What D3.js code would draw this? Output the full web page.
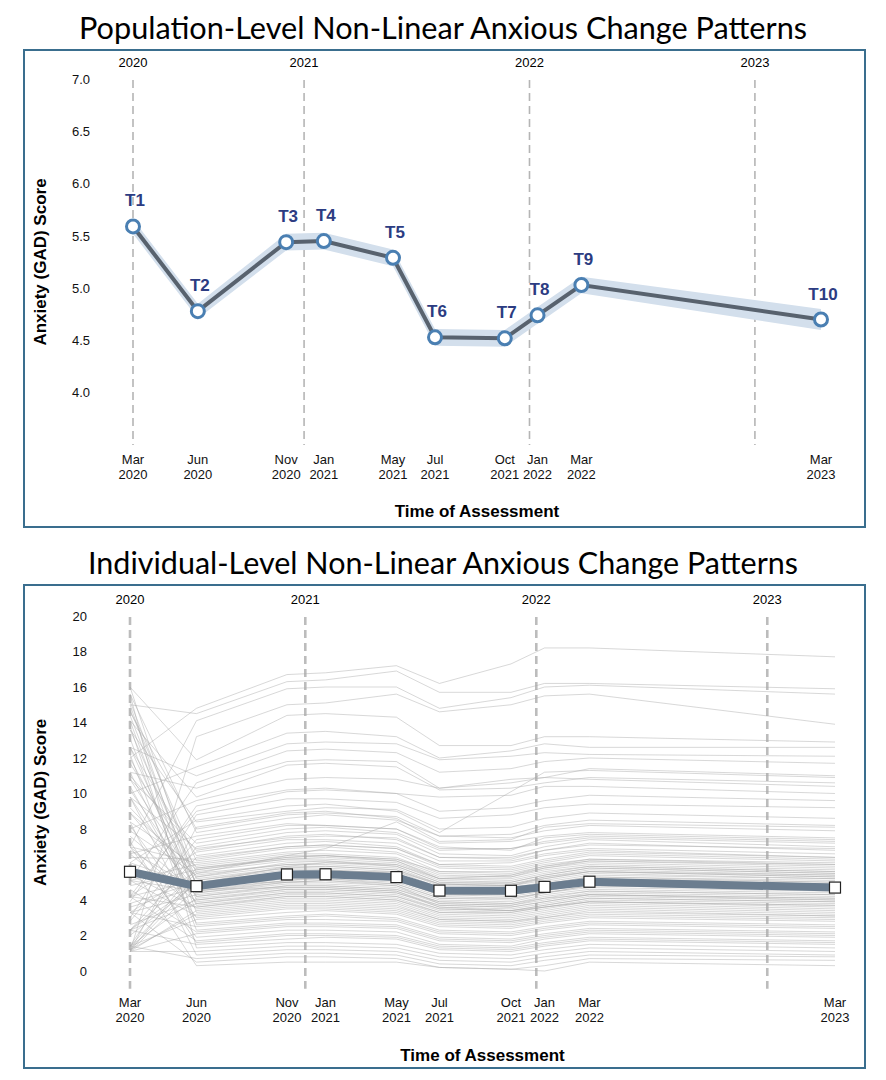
<!DOCTYPE html>
<html>
<head>
<meta charset="utf-8">
<script src="https://cdn.jsdelivr.net/npm/d3@7"></script>
<style>
  body { margin: 0; background: #fff; }
  svg { display: block; }
  svg text { font-family: "Liberation Sans", Arial, Helvetica, sans-serif; }
  svg text.title { font-family: Lato, "Open Sans", sans-serif; }
</style>
</head>
<body>
<svg id="chart" width="886" height="1080"></svg>
<script>
// assessment waves
const waves = ['T1', 'T2', 'T3', 'T4', 'T5', 'T6', 'T7', 'T8', 'T9', 'T10'];
const waveDates = ['2020-03-30', '2020-07-13', '2020-12-03', '2021-02-02', '2021-05-25',
  '2021-08-01', '2021-11-22', '2022-01-14', '2022-03-26', '2023-04-18'];
const monthLabels = ['Mar', 'Jun', 'Nov', 'Jan', 'May', 'Jul', 'Oct', 'Jan', 'Mar', 'Mar'];
const yearLabels = ['2020', '2020', '2020', '2021', '2021', '2021', '2021', '2022', '2022', '2023'];

// year boundaries (first one sits on the first wave)
const yearMarks = ['2020', '2021', '2022', '2023'];
const yearMarkDates = ['2020-03-30', '2021-01-01', '2022-01-01', '2023-01-01'];

// population mean and its band
const meanScores = [5.59, 4.78, 5.44, 5.45, 5.29, 4.53, 4.52, 4.74, 5.03, 4.70];
const ciLower = [5.52, 4.71, 5.36, 5.37, 5.21, 4.45, 4.44, 4.66, 4.95, 4.60];
const ciUpper = [5.66, 4.85, 5.52, 5.53, 5.37, 4.61, 4.60, 4.82, 5.11, 4.80];

const populationTicks = [4.0, 4.5, 5.0, 5.5, 6.0, 6.5, 7.0];
const individualTicks = [0, 2, 4, 6, 8, 10, 12, 14, 16, 18, 20];

// individual trajectories (one row per participant, T1..T10)
const individualScores = [
  [12.0, 14.8, 16.7, 16.8, 17.2, 16.2, 17.3, 18.2, 18.2, 17.7],
  [15.0, 14.5, 16.3, 16.4, 16.9, 15.7, 15.7, 16.2, 16.2, 15.9],
  [7.0, 14.1, 15.9, 16.0, 16.0, 14.8, 15.4, 16.0, 16.1, 15.6],
  [1.1, 13.2, 15.0, 15.1, 15.6, 14.6, 15.0, 15.5, 15.6, 13.9],
  [16.0, 11.9, 14.4, 14.5, 14.3, 12.7, 12.7, 13.2, 13.2, 12.9],
  [10.0, 11.5, 13.4, 13.5, 13.2, 12.0, 12.4, 12.8, 12.6, 12.6],
  [12.6, 11.0, 12.8, 12.9, 12.8, 11.9, 12.1, 12.3, 12.2, 12.1],
  [5.1, 10.6, 12.4, 12.5, 12.3, 11.2, 11.4, 11.8, 12.0, 11.7],
  [11.2, 10.3, 11.8, 11.9, 11.8, 10.3, 10.8, 10.9, 11.4, 11.0],
  [14.1, 9.8, 11.6, 11.7, 11.5, 10.2, 10.3, 10.6, 10.9, 10.6],
  [8.0, 9.6, 10.8, 10.9, 10.8, 10.3, 10.6, 10.9, 10.8, 10.4],
  [4.2, 9.0, 10.1, 10.2, 10.0, 9.8, 9.9, 10.4, 10.4, 10.0],
  [6.1, 8.5, 9.3, 9.4, 9.0, 7.8, 10.1, 11.2, 11.3, 10.9],
  [2.3, 5.5, 6.5, 6.9, 8.4, 7.2, 7.3, 7.6, 7.8, 7.5],
  [3.0, 8.8, 9.7, 9.7, 9.5, 8.6, 8.8, 9.2, 9.4, 9.2],
  [13.6, 8.4, 9.0, 9.2, 9.1, 8.0, 8.1, 8.6, 8.9, 8.6],
  [1.1, 8.1, 8.9, 9.0, 8.6, 7.3, 7.4, 8.1, 8.3, 8.1],
  [15.6, 7.8, 8.6, 8.8, 8.5, 7.6, 7.5, 7.9, 8.2, 7.9],
  [6.6, 7.6, 8.3, 8.2, 8.0, 7.0, 6.8, 7.5, 7.7, 7.4],
  [10.8, 7.2, 8.0, 8.1, 7.8, 6.8, 6.9, 7.2, 7.5, 7.2],
  [1.4, 7.0, 7.8, 7.9, 7.7, 6.6, 6.5, 7.0, 7.4, 7.0],
  [9.8, 6.9, 7.5, 7.6, 7.5, 6.4, 6.3, 6.8, 7.1, 6.9],
  [4.2, 6.7, 7.4, 7.4, 7.2, 6.2, 6.2, 6.6, 6.9, 6.6],
  [12.6, 6.5, 7.2, 7.3, 7.0, 6.0, 6.1, 6.5, 6.8, 6.4],
  [2.3, 6.4, 7.0, 7.1, 6.9, 5.9, 5.8, 6.2, 6.6, 6.3],
  [14.7, 6.2, 6.9, 7.0, 6.7, 5.8, 5.7, 6.1, 6.5, 6.2],
  [7.0, 6.1, 6.7, 6.8, 6.6, 5.6, 5.6, 6.0, 6.3, 6.0],
  [5.1, 6.0, 6.6, 6.6, 6.4, 5.5, 5.4, 5.8, 6.2, 5.9],
  [8.4, 5.9, 6.5, 6.5, 6.3, 5.4, 5.3, 5.8, 6.1, 5.8],
  [11.7, 5.8, 6.4, 6.5, 6.2, 5.3, 5.3, 5.7, 6.0, 5.7],
  [1.1, 5.8, 6.3, 6.4, 6.2, 5.2, 5.2, 5.6, 5.9, 5.6],
  [8.9, 5.7, 6.3, 6.3, 6.1, 5.2, 5.1, 5.5, 5.9, 5.6],
  [3.3, 5.6, 6.2, 6.2, 6.0, 5.1, 5.0, 5.4, 5.8, 5.5],
  [15.2, 5.5, 6.0, 6.1, 5.9, 5.0, 4.9, 5.3, 5.7, 5.4],
  [7.9, 5.4, 6.0, 6.0, 5.8, 4.9, 4.8, 5.2, 5.6, 5.3],
  [1.4, 5.3, 5.9, 5.9, 5.7, 4.8, 4.8, 5.1, 5.5, 5.2],
  [13.6, 5.2, 5.8, 5.8, 5.6, 4.7, 4.7, 5.0, 5.4, 5.2],
  [4.2, 5.1, 5.7, 5.7, 5.5, 4.6, 4.6, 4.9, 5.3, 5.0],
  [10.8, 5.0, 5.6, 5.6, 5.4, 4.5, 4.5, 4.9, 5.2, 4.9],
  [2.3, 4.9, 5.5, 5.5, 5.3, 4.4, 4.4, 4.7, 5.1, 4.8],
  [6.1, 4.8, 5.4, 5.4, 5.2, 4.3, 4.3, 4.6, 5.0, 4.8],
  [16.0, 4.8, 5.3, 5.4, 5.1, 4.3, 4.2, 4.5, 4.9, 4.7],
  [1.1, 4.7, 5.2, 5.2, 5.0, 4.2, 4.1, 4.4, 4.8, 4.6],
  [8.9, 4.6, 5.1, 5.2, 4.9, 4.1, 4.0, 4.4, 4.7, 4.5],
  [5.1, 4.5, 5.0, 5.0, 4.8, 4.0, 3.9, 4.3, 4.6, 4.4],
  [12.6, 4.4, 4.9, 4.9, 4.7, 3.9, 3.8, 4.2, 4.5, 4.3],
  [3.3, 4.3, 4.8, 4.8, 4.6, 3.8, 3.7, 4.0, 4.4, 4.2],
  [9.8, 4.2, 4.7, 4.7, 4.5, 3.7, 3.6, 3.9, 4.3, 4.1],
  [1.4, 4.1, 4.6, 4.6, 4.4, 3.6, 3.5, 3.8, 4.2, 4.0],
  [14.1, 4.0, 4.5, 4.5, 4.3, 3.5, 3.4, 3.7, 4.1, 3.9],
  [7.0, 3.9, 4.4, 4.4, 4.2, 3.4, 3.3, 3.6, 4.0, 3.8],
  [2.3, 3.8, 4.3, 4.3, 4.1, 3.3, 3.2, 3.5, 3.9, 3.6],
  [11.2, 3.7, 4.2, 4.2, 4.0, 3.2, 3.1, 3.4, 3.8, 3.5],
  [4.2, 3.6, 4.1, 4.1, 3.9, 3.1, 3.0, 3.3, 3.7, 3.4],
  [6.6, 3.5, 4.0, 4.0, 3.8, 3.0, 2.9, 3.2, 3.6, 3.3],
  [1.1, 3.4, 3.9, 3.9, 3.7, 2.9, 2.8, 3.1, 3.5, 3.2],
  [13.1, 3.3, 3.8, 3.8, 3.6, 2.9, 2.8, 3.0, 3.4, 3.1],
  [2.0, 4.9, 5.9, 6.1, 6.0, 5.2, 5.4, 5.9, 6.3, 6.1],
  [10.2, 4.7, 5.4, 5.6, 5.6, 4.9, 4.8, 5.3, 5.6, 5.4],
  [6.8, 4.6, 4.7, 4.7, 4.5, 3.6, 3.4, 3.6, 3.9, 3.7],
  [3.8, 5.0, 5.0, 5.1, 4.8, 3.8, 3.7, 4.1, 4.3, 4.0],
  [14.4, 4.8, 5.6, 5.7, 5.5, 4.6, 4.5, 4.8, 5.2, 5.0],
  [5.6, 4.5, 5.1, 5.3, 5.3, 4.5, 4.4, 4.7, 5.1, 4.9],
  [4.8, 5.7, 6.4, 6.5, 6.3, 5.6, 5.5, 5.9, 6.2, 6.0],
  [9.2, 5.3, 6.1, 6.2, 5.9, 5.0, 5.0, 5.4, 5.8, 5.5],
  [1.2, 5.1, 5.8, 5.9, 5.7, 4.9, 4.9, 5.2, 5.6, 5.3],
  [12.0, 4.9, 5.4, 5.5, 5.4, 4.6, 4.5, 4.9, 5.3, 5.1],
  [3.6, 4.7, 5.3, 5.3, 5.1, 4.3, 4.3, 4.6, 5.0, 4.8],
  [7.6, 4.4, 5.0, 5.1, 4.9, 4.1, 4.1, 4.4, 4.8, 4.6],
  [15.0, 4.2, 4.8, 4.8, 4.6, 3.9, 3.8, 4.1, 4.5, 4.3],
  [2.6, 4.0, 4.6, 4.6, 4.4, 3.7, 3.6, 3.9, 4.3, 4.1],
  [10.4, 3.8, 4.4, 4.4, 4.2, 3.5, 3.4, 3.7, 4.1, 3.9],
  [5.4, 3.6, 4.2, 4.2, 4.0, 3.3, 3.3, 3.6, 3.9, 3.7],
  [6.4, 6.3, 7.0, 7.1, 6.9, 6.0, 5.9, 6.3, 6.7, 6.4],
  [11.0, 6.8, 7.6, 7.7, 7.4, 6.4, 6.4, 6.8, 7.2, 6.8],
  [2.8, 7.4, 8.2, 8.2, 8.0, 6.9, 6.9, 7.3, 7.6, 7.3],
  [14.6, 8.0, 8.8, 8.9, 8.7, 7.6, 7.7, 8.2, 8.5, 8.2],
  [3.9, 9.3, 10.2, 10.3, 10.0, 9.0, 9.2, 9.6, 9.9, 9.6],
  [5.1, 3.1, 3.6, 3.6, 3.4, 2.7, 2.6, 2.9, 3.2, 3.0],
  [1.2, 3.2, 3.7, 3.7, 3.5, 2.8, 2.7, 3.0, 3.3, 3.1],
  [8.2, 3.0, 3.5, 3.5, 3.3, 2.6, 2.5, 2.8, 3.1, 2.9],
  [1.4, 2.9, 3.3, 3.4, 3.2, 2.5, 2.4, 2.7, 3.0, 2.8],
  [9.8, 2.7, 3.1, 3.2, 3.0, 2.3, 2.2, 2.5, 2.8, 2.6],
  [13.8, 2.6, 3.0, 3.1, 2.9, 2.2, 2.1, 2.4, 2.7, 2.5],
  [3.3, 2.5, 2.9, 2.9, 2.8, 2.1, 2.0, 2.3, 2.6, 2.4],
  [12.2, 2.3, 2.7, 2.7, 2.6, 1.9, 1.8, 2.1, 2.4, 2.2],
  [4.6, 2.2, 2.6, 2.6, 2.5, 1.8, 1.7, 2.0, 2.3, 2.1],
  [1.1, 2.1, 2.5, 2.5, 2.4, 1.7, 1.6, 1.9, 2.2, 2.0],
  [7.0, 1.9, 2.3, 2.3, 2.2, 1.5, 1.4, 1.8, 2.1, 1.9],
  [4.2, 1.7, 2.1, 2.1, 2.0, 1.4, 1.3, 1.6, 1.9, 1.7],
  [7.3, 1.6, 2.0, 2.0, 1.9, 1.3, 1.2, 1.5, 1.8, 1.6],
  [2.3, 1.5, 1.8, 1.9, 1.8, 1.2, 1.1, 1.4, 1.7, 1.5],
  [15.6, 1.3, 1.6, 1.6, 1.5, 1.0, 0.9, 1.2, 1.5, 1.3],
  [1.1, 1.1, 1.4, 1.4, 1.3, 0.8, 0.7, 1.0, 1.3, 1.1],
  [8.4, 0.9, 1.2, 1.2, 1.1, 0.6, 0.5, 0.8, 1.1, 0.9],
  [1.4, 0.7, 1.0, 1.0, 0.9, 0.4, 0.3, 0.6, 0.9, 0.8],
  [3.3, 0.5, 0.8, 0.8, 0.7, 0.2, 0.1, 0.0, 0.5, 0.3],
  [6.1, 0.3, 0.5, 0.5, 0.5, 0.2, 0.1, 0.3, 0.7, 0.6],
];

const parseDate = d3.timeParse('%Y-%m-%d');
const dates = waveDates.map(parseDate);
const svg = d3.select('#chart');

function drawFrame(cfg) {
  const { top, bottom, title, titleWidth, x, y, yTicks, tickFormat, labelX, yearY, monthY } = cfg;

  svg.append('text')
    .attr('class', 'title')
    .attr('x', 443).attr('y', top - 11)
    .attr('text-anchor', 'middle')
    .attr('font-size', 30)
    .attr('textLength', titleWidth)
    .attr('lengthAdjust', 'spacingAndGlyphs')
    .attr('fill', '#000')
    .text(title);

  svg.append('rect')
    .attr('x', 24).attr('y', top)
    .attr('width', 841).attr('height', bottom - top)
    .attr('fill', 'none')
    .attr('stroke', '#3a6e8e')
    .attr('stroke-width', 2);

  const [y0, y1] = y.range();

  // year separators
  svg.append('g')
    .selectAll('line')
    .data(yearMarkDates.map(parseDate))
    .join('line')
    .attr('x1', (d) => x(d)).attr('x2', (d) => x(d))
    .attr('y1', y1 + 1).attr('y2', y0)
    .attr('stroke', cfg.dashColor)
    .attr('stroke-width', cfg.dashWidth)
    .attr('stroke-dasharray', '8,5');

  svg.append('g')
    .selectAll('text')
    .data(yearMarks)
    .join('text')
    .attr('x', (d, i) => x(parseDate(yearMarkDates[i])))
    .attr('y', yearY)
    .attr('text-anchor', 'middle')
    .attr('font-size', 13)
    .text((d) => d);

  // y axis labels only
  const yAxis = svg.append('g')
    .attr('transform', `translate(${labelX},0)`)
    .call(d3.axisLeft(y).tickValues(yTicks).tickSize(0).tickPadding(0).tickFormat(tickFormat));
  yAxis.select('.domain').remove();
  yAxis.attr('font-family', null).attr('font-size', 13);
  yAxis.selectAll('text').attr('fill', '#111');

  // two-line time labels
  const xl = svg.append('g')
    .selectAll('text')
    .data(dates)
    .join('text')
    .attr('text-anchor', 'middle')
    .attr('font-size', 13)
    .attr('fill', '#111');
  xl.append('tspan').attr('x', (d) => x(d)).attr('y', monthY).text((d, i) => monthLabels[i]);
  xl.append('tspan').attr('x', (d) => x(d)).attr('y', monthY + 15).text((d, i) => yearLabels[i]);

  const xr = x.range();
  svg.append('text')
    .attr('x', (xr[0] + xr[1]) / 2).attr('y', cfg.xTitleY)
    .attr('text-anchor', 'middle')
    .attr('font-size', 17).attr('font-weight', 'bold')
    .text('Time of Assessment');

  svg.append('text')
    .attr('transform', `translate(46,${(y0 + y1) / 2}) rotate(-90)`)
    .attr('text-anchor', 'middle')
    .attr('font-size', 17).attr('font-weight', 'bold')
    .text('Anxiety (GAD) Score');
}

// ---------- Population-level panel ----------
const xTop = d3.scaleTime().domain([dates[0], dates[9]]).range([133, 821]);
const yTop = d3.scaleLinear().domain([3.5, 7]).range([445, 79]);

drawFrame({
  top: 50, bottom: 527,
  title: 'Population-Level Non-Linear Anxious Change Patterns', titleWidth: 728,
  x: xTop, y: yTop, yTicks: populationTicks, tickFormat: d3.format('.1f'),
  labelX: 90, yearY: 67, monthY: 464, xTitleY: 517,
  dashColor: '#b5b5b5', dashWidth: 1.6,
});

const band = d3.area()
  .x((d, i) => xTop(dates[i]))
  .y0((d, i) => yTop(ciLower[i]))
  .y1((d, i) => yTop(ciUpper[i]));

svg.append('path')
  .datum(meanScores)
  .attr('d', band)
  .attr('fill', '#d3dfec');

svg.append('path')
  .datum(meanScores)
  .attr('d', d3.line().x((d, i) => xTop(dates[i])).y((d) => yTop(d)))
  .attr('fill', 'none')
  .attr('stroke', '#58626e')
  .attr('stroke-width', 4);

svg.append('g')
  .selectAll('circle')
  .data(meanScores)
  .join('circle')
  .attr('cx', (d, i) => xTop(dates[i]))
  .attr('cy', (d) => yTop(d))
  .attr('r', 6.5)
  .attr('fill', '#fff')
  .attr('stroke', '#4a7fb2')
  .attr('stroke-width', 3);

svg.append('g')
  .selectAll('text')
  .data(meanScores)
  .join('text')
  .attr('x', (d, i) => xTop(dates[i]) + 2)
  .attr('y', (d) => yTop(d) - 20)
  .attr('text-anchor', 'middle')
  .attr('font-size', 17)
  .attr('font-weight', 'bold')
  .attr('fill', '#2c3c82')
  .text((d, i) => waves[i]);

// ---------- Individual-level panel ----------
const xBot = d3.scaleTime().domain([dates[0], dates[9]]).range([130, 835]);
const yBot = d3.scaleLinear().domain([-1, 20]).range([988.75, 616]);

drawFrame({
  top: 585, bottom: 1068,
  title: 'Individual-Level Non-Linear Anxious Change Patterns', titleWidth: 710,
  x: xBot, y: yBot, yTicks: individualTicks, tickFormat: d3.format('d'),
  labelX: 87, yearY: 604, monthY: 1007, xTitleY: 1061,
  dashColor: '#bcbcbc', dashWidth: 2.6,
});

const lineBot = d3.line().x((d, i) => xBot(dates[i])).y((d) => yBot(d));

svg.append('g')
  .selectAll('path')
  .data(individualScores)
  .join('path')
  .attr('d', lineBot)
  .attr('fill', 'none')
  .attr('stroke', '#a8a8a8')
  .attr('stroke-opacity', 0.45)
  .attr('stroke-width', 1);

svg.append('path')
  .datum(meanScores)
  .attr('d', lineBot)
  .attr('fill', 'none')
  .attr('stroke', '#6b7d8f')
  .attr('stroke-width', 8);

svg.append('g')
  .selectAll('rect')
  .data(meanScores)
  .join('rect')
  .attr('x', (d, i) => xBot(dates[i]) - 5.5)
  .attr('y', (d) => yBot(d) - 5.5)
  .attr('width', 11).attr('height', 11)
  .attr('fill', '#fff')
  .attr('stroke', '#222')
  .attr('stroke-width', 1.2);
</script>
</body>
</html>
